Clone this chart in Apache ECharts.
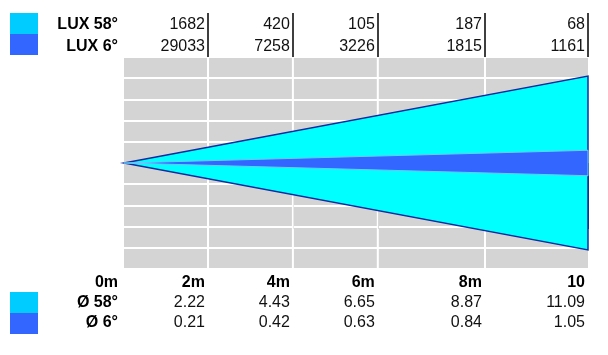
<!DOCTYPE html>
<html>
<head>
<meta charset="utf-8">
<script src="https://cdn.jsdelivr.net/npm/echarts@6/dist/echarts.min.js"></script>
<style>
  html, body { margin: 0; padding: 0; background: #fff; }
  #chart { width: 608px; height: 355px; }
</style>
</head>
<body>
<div id="chart"></div>
<script>
// table values
const distances = ['2m', '4m', '6m', '8m', '10'];
const lux58 = [1682, 420, 105, 187, 68];
const lux6 = [29033, 7258, 3226, 1815, 1161];
const dia58 = ['2.22', '4.43', '6.65', '8.87', '11.09'];
const dia6 = ['0.21', '0.42', '0.63', '0.84', '1.05'];
// beam outlines (distance, half spread)
const beam58 = [[0, 0], [10, 4.1], [10, -4.1]];
const beam6 = [[0, 0], [10, 0.6], [10, -0.6]];

// table column boundaries on the distance axis (layout, not data)
const columnEdges = [1.81, 3.64, 5.47, 7.78, 10];

const FONT = 'Liberation Sans, Arial, sans-serif';

const myChart = echarts.init(document.getElementById('chart'));

function beamSeries(name, pts, fill, stroke, lw, z) {
    return {
        name: name,
        type: 'custom',
        z: z,
        silent: true,
        data: [0],
        renderItem: (params, api) => ({
            type: 'polygon',
            shape: {points: pts.map(p => api.coord(p))},
            style: {fill: fill, stroke: stroke, lineWidth: lw}
        })
    };
}

function legendBlock(top) {
    return {
        top: top,
        left: 10,
        orient: 'vertical',
        padding: 0,
        itemGap: 0,
        itemWidth: 28,
        itemHeight: 21,
        icon: 'rect',
        selectedMode: false,
        formatter: () => '',
        textStyle: {fontSize: 1, padding: 0},
        data: [
            {name: '58°', itemStyle: {color: '#00ccff'}},
            {name: '6°', itemStyle: {color: '#3366ff'}}
        ]
    };
}

const textRich = {
    b: {fontFamily: FONT, fontSize: 16, fontWeight: 'bold', color: '#000', padding: [0, 3, 0, 0]},
    n: {fontFamily: FONT, fontSize: 16, color: '#111', padding: [0, 3, 0, 0]},
    h: {fontFamily: FONT, fontSize: 16, fontWeight: 'bold', color: '#000', padding: [0, 6, 0, 0]}
};

myChart.setOption({
    animation: false,
    legend: [legendBlock(13), legendBlock(292)],
    grid: {
        left: 124,
        top: 57,
        width: 464,
        height: 212,
        show: true,
        backgroundColor: '#d4d4d4',
        borderWidth: 0
    },
    xAxis: [
        {
            type: 'value',
            position: 'bottom',
            min: 0,
            max: 10,
            axisLine: {show: false},
            splitLine: {show: false},
            axisTick: {
                show: true,
                customValues: columnEdges,
                length: 66,
                lineStyle: {color: '#000', width: 1.5}
            },
            axisLabel: {
                customValues: [0].concat(columnEdges),
                margin: 4,
                align: 'right',
                verticalAlign: 'top',
                lineHeight: 20,
                formatter: (value) => {
                    if (value === 0) return '{h|0m}\n{h|Ø 58°}\n{h|Ø 6°}';
                    const i = columnEdges.indexOf(value);
                    return '{b|' + distances[i] + '}\n{n|' + dia58[i] + '}\n{n|' + dia6[i] + '}';
                },
                rich: {
                    b: Object.assign({lineHeight: 20}, textRich.b),
                    n: Object.assign({lineHeight: 20}, textRich.n),
                    h: Object.assign({lineHeight: 20}, textRich.h)
                }
            }
        },
        {
            type: 'value',
            position: 'top',
            min: 0,
            max: 10,
            axisLine: {show: false},
            splitLine: {show: false},
            axisTick: {
                show: true,
                customValues: columnEdges,
                length: 44,
                lineStyle: {color: '#000', width: 1.5}
            },
            axisLabel: {
                customValues: [0].concat(columnEdges),
                margin: -1,
                align: 'right',
                verticalAlign: 'bottom',
                lineHeight: 22,
                formatter: (value) => {
                    if (value === 0) return '{h|LUX 58°}\n{h|LUX 6°}';
                    const i = columnEdges.indexOf(value);
                    return '{n|' + lux58[i] + '}\n{n|' + lux6[i] + '}';
                },
                rich: {
                    n: Object.assign({lineHeight: 22}, textRich.n),
                    h: Object.assign({lineHeight: 22}, textRich.h)
                }
            }
        }
    ],
    yAxis: {
        type: 'value',
        min: -5,
        max: 5,
        interval: 1,
        axisLine: {show: false},
        axisTick: {show: false},
        axisLabel: {show: false},
        splitLine: {show: true, lineStyle: {color: '#ffffff', width: 2}}
    },
    series: [
        {
            name: 'columns',
            type: 'custom',
            z: 1,
            silent: true,
            data: columnEdges.slice(0, -1),
            renderItem: (params, api) => {
                const a = api.coord([api.value(0), -5]);
                const b = api.coord([api.value(0), 5]);
                return {
                    type: 'line',
                    shape: {x1: a[0], y1: a[1], x2: b[0], y2: b[1]},
                    style: {stroke: '#ffffff', lineWidth: 2}
                };
            }
        },
        beamSeries('58°', beam58, '#00ffff', '#1428a0', 1.5, 3),
        beamSeries('6°', beam6, '#3366ff', '#66ccff', 1, 4)
    ]
});
</script>
</body>
</html>
